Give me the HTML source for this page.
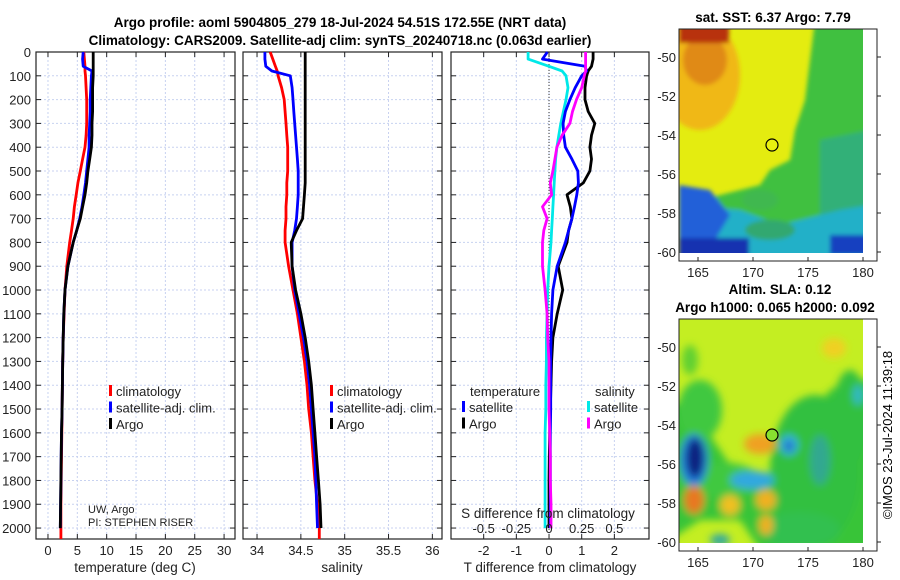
<!DOCTYPE html>
<html><head><meta charset="utf-8"><style>
html,body{margin:0;padding:0;background:#fff;}
svg{display:block;font-family:"Liberation Sans",sans-serif;}
</style></head><body>
<svg id="c" width="900" height="580" viewBox="0 0 900 580" xmlns="http://www.w3.org/2000/svg">
<defs>
<clipPath id="m1c"><rect x="679" y="29" width="184" height="224"/></clipPath>
<clipPath id="m2c"><rect x="679" y="319" width="184" height="224"/></clipPath>
<filter id="bl"><feGaussianBlur stdDeviation="4"/></filter>
<filter id="bl2"><feGaussianBlur stdDeviation="2"/></filter>
</defs>
<text x="340" y="27" text-anchor="middle" font-size="13.5" font-weight="bold">Argo profile: aoml 5904805_279 18-Jul-2024 54.51S 172.55E (NRT data)</text>
<text x="340" y="45" text-anchor="middle" font-size="13.5" font-weight="bold">Climatology: CARS2009. Satellite-adj clim: synTS_20240718.nc (0.063d earlier)</text>

<g>
<text x="773" y="22" text-anchor="middle" font-size="13.5" font-weight="bold">sat. SST: 6.37 Argo: 7.79</text>
<g clip-path="url(#m1c)">
<rect x="679" y="29" width="184" height="224" fill="#e4ec10"/>
<g filter="url(#bl2)">
<ellipse cx="700" cy="75" rx="40" ry="55" fill="#f0b818"/>
<ellipse cx="705" cy="60" rx="22" ry="25" fill="#e08a18"/>
<rect x="679" y="25" width="50" height="18" fill="#b83010"/>
<polygon points="815,20 870,20 870,260 679,260 679,195 700,200 740,190 760,185 770,170 790,160 795,130 805,100" fill="#40c040"/>
<polygon points="820,140 870,130 870,260 820,260" fill="#30b078"/>
<polygon points="679,205 740,210 780,225 840,210 870,205 870,260 679,260" fill="#20b0c8"/>
<polygon points="679,185 710,190 730,215 715,240 679,240" fill="#2060d8"/>
<rect x="679" y="238" width="70" height="20" fill="#1830b0"/>
<rect x="830" y="235" width="40" height="20" fill="#1840c0"/>
<ellipse cx="760" cy="200" rx="18" ry="10" fill="#40b850"/>
<ellipse cx="770" cy="230" rx="25" ry="10" fill="#30a870"/>
</g>
</g>
<rect x="679" y="29" width="198" height="232" fill="none" stroke="#222" stroke-width="1"/>
<circle cx="772" cy="145" r="6" fill="#e8f010" stroke="#000" stroke-width="1.2"/>
</g>

<g>
<text x="780" y="294" text-anchor="middle" font-size="13.5" font-weight="bold">Altim. SLA: 0.12</text>
<text x="775" y="312" text-anchor="middle" font-size="13.5" font-weight="bold">Argo h1000: 0.065 h2000: 0.092</text>
<g clip-path="url(#m2c)">
<rect x="679" y="319" width="184" height="224" fill="#c4ee22"/>
<g filter="url(#bl)">
<polygon points="800,430 830,390 850,380 875,380 875,550 760,550 740,520 700,520 670,540 670,400 700,420 740,480 780,470" fill="#38c438"/>
<ellipse cx="815" cy="470" rx="45" ry="75" fill="#30c040"/>
<ellipse cx="850" cy="420" rx="18" ry="50" fill="#30c040"/>
<ellipse cx="700" cy="410" rx="22" ry="30" fill="#40c840"/>
<ellipse cx="720" cy="480" rx="40" ry="18" fill="#40c840"/>
<ellipse cx="800" cy="530" rx="40" ry="18" fill="#30c050"/>
<ellipse cx="690" cy="360" rx="8" ry="15" fill="#60d030"/>
<ellipse cx="820" cy="460" rx="10" ry="25" fill="#30a890"/>
<ellipse cx="858" cy="395" rx="5" ry="10" fill="#30b8c8"/>
<ellipse cx="694" cy="460" rx="14" ry="26" fill="#2080e0"/>
<ellipse cx="695" cy="458" rx="9" ry="20" fill="#102080"/>
<ellipse cx="752" cy="480" rx="22" ry="9" fill="#30a8e0"/>
<ellipse cx="789" cy="445" rx="9" ry="10" fill="#30b0e0"/>
<ellipse cx="789" cy="446" rx="4" ry="5" fill="#2050c0"/>
<ellipse cx="760" cy="444" rx="16" ry="10" fill="#f0a020"/>
<ellipse cx="694" cy="500" rx="10" ry="14" fill="#e87820"/>
<ellipse cx="766" cy="500" rx="10" ry="10" fill="#f0b020"/>
<ellipse cx="766" cy="525" rx="7" ry="10" fill="#f0b020"/>
<ellipse cx="730" cy="505" rx="10" ry="10" fill="#f0c020"/>
<ellipse cx="834" cy="348" rx="12" ry="10" fill="#f0d020"/>
<ellipse cx="720" cy="540" rx="10" ry="6" fill="#30a8a0"/>
</g>
</g>
<rect x="679" y="319" width="198" height="232" fill="none" stroke="#222" stroke-width="1"/>
<circle cx="772" cy="435" r="6" fill="#88e030" stroke="#000" stroke-width="1.2"/>
</g>
<text transform="translate(892,435) rotate(-90)" text-anchor="middle" font-size="13">©IMOS 23-Jul-2024 11:39:18</text>
</svg>
<script>
const depths=[0,30,60,80,100,150,200,250,300,350,400,450,500,550,600,650,700,750,800,900,1000,1100,1200,1300,1400,1500,1600,1700,1800,1900,2000];
const tArgo=[7.7,7.7,7.7,7.7,7.7,7.6,7.6,7.6,7.5,7.5,7.4,7.1,6.8,6.6,6.3,5.9,5.5,4.9,4.3,3.4,2.9,2.7,2.6,2.5,2.45,2.4,2.3,2.25,2.2,2.15,2.1];
const tSat=[6.0,5.9,6.0,7.5,7.4,7.3,7.2,7.2,7.1,7.0,7.0,6.8,6.6,6.4,6.1,5.8,5.4,4.9,4.3,3.4,2.9,2.7,2.6,2.5,2.45,2.4,2.3,2.25,2.2,2.15,2.1];
const tClim=[6.1,6.2,6.3,6.3,6.4,6.5,6.6,6.6,6.6,6.5,6.3,5.9,5.5,5.1,4.8,4.5,4.3,4.0,3.7,3.2,2.9,2.75,2.6,2.5,2.45,2.4,2.35,2.3,2.25,2.2,2.2];
const sArgo=[34.55,34.55,34.55,34.55,34.55,34.55,34.55,34.55,34.55,34.55,34.55,34.55,34.55,34.55,34.54,34.53,34.52,34.45,34.39,34.40,34.44,34.50,34.55,34.59,34.62,34.64,34.66,34.68,34.70,34.72,34.73];
const sSat=[34.09,34.09,34.10,34.17,34.38,34.40,34.41,34.42,34.43,34.44,34.45,34.46,34.47,34.47,34.47,34.46,34.45,34.43,34.40,34.40,34.43,34.48,34.53,34.57,34.60,34.62,34.64,34.66,34.67,34.68,34.69];
const sClim=[34.15,34.18,34.21,34.23,34.24,34.28,34.31,34.32,34.33,34.34,34.35,34.35,34.35,34.34,34.34,34.33,34.33,34.32,34.32,34.36,34.41,34.46,34.50,34.54,34.57,34.59,34.62,34.64,34.66,34.69,34.71];
const dTArgo=[1.35,1.35,1.3,1.2,1.15,1.1,1.1,1.2,1.4,1.3,1.25,1.3,1.25,1.05,0.55,0.65,0.7,0.6,0.55,0.28,0.42,0.25,0.12,0.08,0.06,0.04,0.02,0.01,0.0,0.0,0.0];
const dTSat=[-0.05,-0.2,1.1,1.15,1.0,0.8,0.64,0.5,0.43,0.45,0.5,0.7,0.88,0.9,0.85,0.78,0.7,0.6,0.5,0.25,0.12,0.08,0.06,0.05,0.05,0.05,0.04,0.04,0.04,0.04,0.04];
const dSSat=[-0.16,-0.16,0.0,0.10,0.13,0.145,0.13,0.11,0.09,0.075,0.06,0.05,0.045,0.04,0.035,0.03,0.025,0.02,0.015,0.0,-0.01,-0.015,-0.02,-0.02,-0.025,-0.025,-0.03,-0.03,-0.03,-0.03,-0.03];
const dSArgo=[0.28,0.28,0.28,0.28,0.27,0.25,0.21,0.18,0.16,0.1,0.06,0.045,0.03,0.01,0.02,-0.05,-0.015,-0.04,-0.05,-0.05,-0.03,-0.015,-0.01,0.0,0.0,0.0,0.005,0.01,0.01,0.015,0.015];
const depthTicks=[0,100,200,300,400,500,600,700,800,900,1000,1100,1200,1300,1400,1500,1600,1700,1800,1900,2000];
const tTicks=[0,5,10,15,20,25,30];
const sTicks=[34,34.5,35,35.5,36];
const dTTicks=[-2,-1,0,1,2];
const dSTicks=[-0.5,-0.25,0,0.25,0.5];
const lonTicks=[165,170,175,180];
const latTicks=[-50,-52,-54,-56,-58,-60];

const svg=document.getElementById('c');
const NS='http://www.w3.org/2000/svg';
function mk(tag,attrs,parent){const e=document.createElementNS(NS,tag);for(const k in attrs)e.setAttribute(k,attrs[k]);(parent||svg).appendChild(e);return e;}
const Y0=52,PMAX=2046,YB=539;
function yP(p){return Y0+(YB-Y0)*p/PMAX;}
const panels=[{x0:36,x1:235,min:-2.04,max:31.86},{x0:243,x1:442,min:33.84,max:36.11},{x0:451,x1:649,min:-3.0,max:3.06}];
function xS(pi,v){const P=panels[pi];return P.x0+(P.x1-P.x0)*(v-P.min)/(P.max-P.min);}
function xDS(v){return xS(2,v*4);}

function frame(pi,ticks,fx,name){
  const P=panels[pi];
  const g=mk('g',{});
  
  
  ticks.forEach(t=>{const x=fx(t);const l=mk('line',{x1:x,x2:x,y1:Y0,y2:YB,stroke:'#c8d2f0','stroke-dasharray':'2,2','stroke-width':1},g);
    
    mk('line',{x1:x,x2:x,y1:YB,y2:YB-5,stroke:'#222'},g);mk('line',{x1:x,x2:x,y1:Y0,y2:Y0+5,stroke:'#222'},g);});
  depthTicks.forEach(d=>{const y=yP(d);const l=mk('line',{x1:P.x0,x2:P.x1,y1:y,y2:y,stroke:'#c8d2f0','stroke-dasharray':'2,2','stroke-width':1},g);
    
    mk('line',{x1:P.x0,x2:P.x0+5,y1:y,y2:y,stroke:'#222'},g);mk('line',{x1:P.x1,x2:P.x1-5,y1:y,y2:y,stroke:'#222'},g);});
  const r=mk('rect',{x:P.x0,y:Y0,width:P.x1-P.x0,height:YB-Y0,fill:'none',stroke:'#222','stroke-width':1.2},g);
  
  return g;
}
function line(vals,fx,color,name,extend){
  let pts=vals.map((v,i)=>fx(v).toFixed(1)+','+yP(depths[i]).toFixed(1));
  if(extend)pts.push(fx(vals[vals.length-1]).toFixed(1)+','+YB);
  const p=mk('polyline',{points:pts.join(' '),fill:'none',stroke:color,'stroke-width':2.8,'stroke-linejoin':'round'});
  
  
}
function txt(x,y,s,anchor,size,name){const t=mk('text',{x:x,y:y,'text-anchor':anchor||'start','font-size':size||13,fill:'#222'});t.textContent=s;
  return t;}

frame(0,tTicks,v=>xS(0,v),'temperature-axes');
depthTicks.forEach(d=>txt(31,yP(d)+5,String(d),'end',13,'depth-tick-label'));
tTicks.forEach(t=>txt(xS(0,t),555,String(t),'middle',13,'temperature-tick-label'));
txt(135,572,'temperature (deg C)','middle',13.5,'temperature-axis-title');
line(tClim,v=>xS(0,v),'#ff0000','temperature-climatology-line',true);
line(tSat,v=>xS(0,v),'#0000ff','temperature-satellite-line');
line(tArgo,v=>xS(0,v),'#000000','temperature-argo-line');
function legend(x,items){items.forEach((it,i)=>{const y=392+i*16.5;
  const r=mk('rect',{x:x,y:y-7,width:3,height:11,fill:it[1]});
  txt(x+7,y+4,it[0],'start',13,'legend-entry');});}
legend(109,[['climatology','#ff0000'],['satellite-adj. clim.','#0000ff'],['Argo','#000']]);
txt(88,513,'UW, Argo','start',11,'source-label');
txt(88,526,'PI: STEPHEN RISER','start',11,'pi-label');

frame(1,sTicks,v=>xS(1,v),'salinity-axes');
sTicks.forEach(t=>txt(xS(1,t),555,String(t),'middle',13,'salinity-tick-label'));
txt(342,572,'salinity','middle',13.5,'salinity-axis-title');
line(sClim,v=>xS(1,v),'#ff0000','salinity-climatology-line',true);
line(sSat,v=>xS(1,v),'#0000ff','salinity-satellite-line');
line(sArgo,v=>xS(1,v),'#000000','salinity-argo-line');
legend(330,[['climatology','#ff0000'],['satellite-adj. clim.','#0000ff'],['Argo','#000']]);

frame(2,dTTicks,v=>xS(2,v),'difference-axes');
const zl=mk('line',{x1:xS(2,0),x2:xS(2,0),y1:Y0,y2:YB,stroke:'#333','stroke-dasharray':'1,2','stroke-width':1});

dTTicks.forEach(t=>txt(xS(2,t),555,String(t),'middle',13,'t-difference-tick-label'));
txt(550,572,'T difference from climatology','middle',13.5,'t-difference-axis-title');
line(dTArgo,v=>xS(2,v),'#000000','t-difference-argo-line');
line(dSSat,xDS,'#00e8e8','s-difference-satellite-line');
line(dTSat,v=>xS(2,v),'#0000ff','t-difference-satellite-line');
line(dSArgo,xDS,'#ff00ff','s-difference-argo-line');
txt(548,518,'S difference from climatology','middle',13.5,'s-difference-axis-title');
dSTicks.forEach(t=>txt(xDS(t),533,String(t),'middle',13,'s-difference-tick-label'));
txt(470,396,'temperature','start',13,'legend-heading-temperature');
txt(595,396,'salinity','start',13,'legend-heading-salinity');
[['satellite','#0000ff',462],['Argo','#000',462],['satellite','#00e8e8',587],['Argo','#ff00ff',587]].forEach((it,i)=>{
  const y=408+(i%2)*16.5;const r=mk('rect',{x:it[2],y:y-7,width:3,height:11,fill:it[1]});
  
  txt(it[2]+7,y+4,it[0],'start',13,'legend-entry');});

function mapAxes(y0,lat50y,lat60y,lblY,nm){
  const lx=v=>698+(863-698)*(v-165)/15;
  const ly=v=>lat50y+(lat60y-lat50y)*(-50-v)/10;
  lonTicks.forEach(v=>{txt(lx(v),lblY,String(v),'middle',13,nm+'-lon-tick-label');
    mk('line',{x1:lx(v),x2:lx(v),y1:y0+232,y2:y0+228,stroke:'#222'});});
  latTicks.forEach(v=>{txt(676,ly(v)+5,String(v),'end',13,nm+'-lat-tick-label');
    mk('line',{x1:877,x2:881,y1:ly(v),y2:ly(v),stroke:'#222'});});
}
mapAxes(29,57,252,277,'sst-map');
mapAxes(319,347,542,567,'sla-map');
</script>
</body></html>
